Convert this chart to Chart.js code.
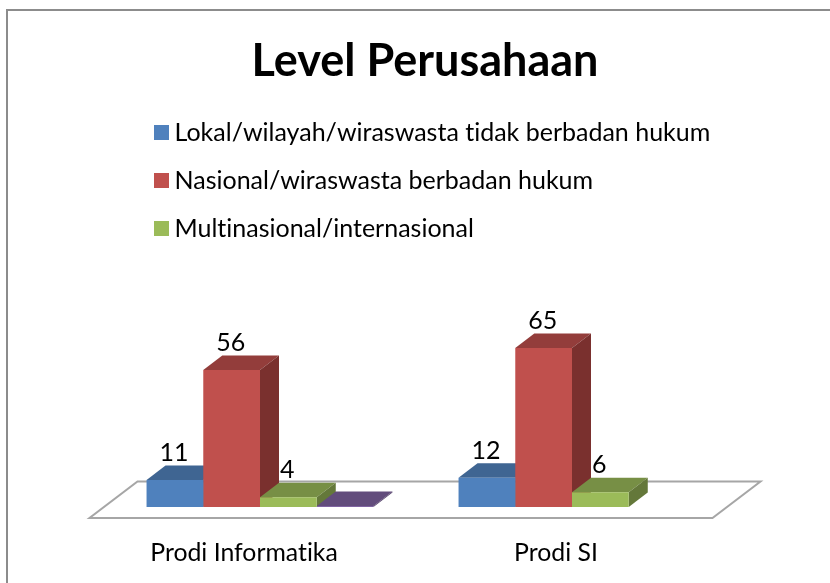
<!DOCTYPE html>
<html>
<head>
<meta charset="utf-8">
<style>html,body{margin:0;padding:0;background:#fff;overflow:hidden}canvas{display:block}</style>
<script src="https://cdn.jsdelivr.net/npm/chart.js@4"></script>
</head>
<body>
<canvas id="c" width="830" height="583"></canvas>
<script>
const titleText = 'Level Perusahaan';
const categories = ['Prodi Informatika', 'Prodi SI'];
const seriesNames = ['Lokal/wilayah/wiraswasta tidak berbadan hukum', 'Nasional/wiraswasta berbadan hukum', 'Multinasional/internasional', ''];
const lokal = [11, 12];
const nasional = [56, 65];
const multinasional = [4, 6];
const lainnya = [0.4, null];
const frontColors = ['#4F81BD', '#C0504D', '#9BBB59', '#8064A2'];
const topColors = ['#3F6592', '#933D3B', '#778F45', '#624C7C'];
const sideColors = ['#355578', '#7A302E', '#64783A', '#523F68'];
const FONT = 'Lato, Carlito, "Open Sans", sans-serif';
const DEPTH_X = 19, DEPTH_Y = 14.5;

function poly(ctx, pts, fill, stroke, lw) {
  ctx.beginPath();
  pts.forEach((p, i) => i ? ctx.lineTo(p[0], p[1]) : ctx.moveTo(p[0], p[1]));
  ctx.closePath();
  if (fill) { ctx.fillStyle = fill; ctx.fill(); }
  if (stroke) { ctx.strokeStyle = stroke; ctx.lineWidth = lw; ctx.stroke(); }
}
function swatch(color) {
  const s = document.createElement('canvas');
  s.width = 15; s.height = 15;
  const g = s.getContext('2d');
  g.fillStyle = color; g.fillRect(0, 0, 15, 15);
  return s;
}

const frame3d = {
  id: 'frame3d',
  beforeDraw(chart) {
    const ctx = chart.ctx;
    ctx.textRendering = 'optimizeSpeed';
    ctx.save();
    ctx.fillStyle = '#fff';
    ctx.fillRect(0, 0, chart.width, chart.height);
    ctx.strokeStyle = '#8C8C8C';
    ctx.lineWidth = 2;
    ctx.strokeRect(7, 10, chart.width + 20, chart.height + 20);
    ctx.restore();
  },
  afterLayout(chart) {
    chart.legend.left = 137;
    chart.legend.top = 97;
    chart.titleBlock.left += 9;
    chart.titleBlock.right += 9;
  },
  beforeDatasetsDraw(chart) {
    const ctx = chart.ctx, a = chart.chartArea;
    ctx.save();
    const fb = a.bottom + 11, bb = a.bottom - 25.5;
    poly(ctx, [[a.left - 14.5, fb], [a.right - 15.5, fb], [a.right + 32.5, bb], [a.left + 33.5, bb]], '#fff', '#A6A6A6', 2);
    chart.data.datasets.forEach((ds, i) => {
      chart.getDatasetMeta(i).data.forEach((bar, j) => {
        if (ds.data[j] == null) return;
        const p = bar.getProps(['x', 'y', 'base', 'width'], true);
        const l = p.x - p.width / 2, r = p.x + p.width / 2;
        poly(ctx, [[l, p.y], [r, p.y], [r + DEPTH_X, p.y - DEPTH_Y], [l + DEPTH_X, p.y - DEPTH_Y]], topColors[i]);
        poly(ctx, [[r, p.y], [r + DEPTH_X, p.y - DEPTH_Y], [r + DEPTH_X, p.base - DEPTH_Y], [r, p.base]], sideColors[i]);
      });
    });
    ctx.restore();
  },
  afterDatasetsDraw(chart) {
    const ctx = chart.ctx;
    ctx.save();
    ctx.fillStyle = '#000';
    ctx.font = '25px ' + FONT;
    ctx.textAlign = 'center';
    ctx.textBaseline = 'middle';
    chart.data.datasets.forEach((ds, i) => {
      if (!ds.label) return;
      chart.getDatasetMeta(i).data.forEach((bar, j) => {
        if (ds.data[j] == null) return;
        const p = bar.getProps(['x', 'y'], true);
        ctx.fillText(String(ds.data[j]), p.x - 1, p.y - 27);
      });
    });
    ctx.restore();
  }
};

const allSeries = [lokal, nasional, multinasional, lainnya];
new Chart(document.getElementById('c'), {
  type: 'bar',
  data: {
    labels: categories,
    datasets: allSeries.map((values, i) => ({
      label: seriesNames[i],
      data: values,
      backgroundColor: frontColors[i],
      borderWidth: 0,
      categoryPercentage: 4 / 5.5,
      barPercentage: 1
    }))
  },
  options: {
    responsive: false,
    animation: false,
    layout: { padding: { left: 104, right: 102, top: 0, bottom: 0 } },
    plugins: {
      tooltip: { enabled: false },
      title: {
        display: true,
        text: titleText,
        color: '#000',
        font: { family: FONT, size: 45, weight: 'bold', lineHeight: 1.2 },
        padding: { top: 34, bottom: 52 }
      },
      legend: {
        position: 'chartArea',
        align: 'start',
        labels: {
          color: '#000',
          font: { family: FONT, size: 25 },
          usePointStyle: true,
          pointStyleWidth: 2,
          boxHeight: 15,
          padding: 23,
          generateLabels(chart) {
            return Chart.defaults.plugins.legend.labels.generateLabels(chart)
              .map(item => Object.assign(item, { pointStyle: swatch(frontColors[item.datasetIndex]) }));
          },
          filter: item => item.text !== ''
        }
      }
    },
    scales: {
      x: {
        grid: { display: false },
        border: { display: false },
        afterFit(scale) { scale.height = 76; },
        ticks: { color: '#000', font: { family: FONT, size: 24.8 }, padding: 23, labelOffset: -16, maxRotation: 0 }
      },
      y: { display: false, min: 0, max: 150 }
    }
  },
  plugins: [frame3d]
});
</script>
</body>
</html>
